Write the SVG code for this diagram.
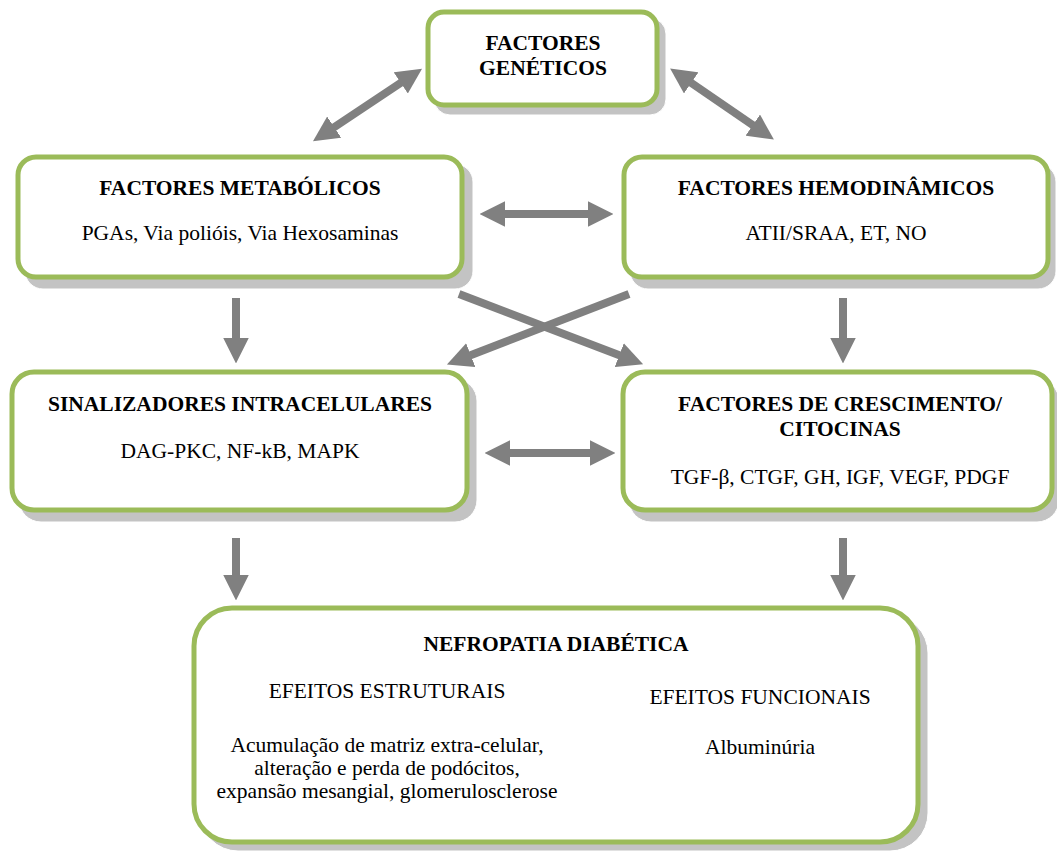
<svg xmlns="http://www.w3.org/2000/svg" width="1057" height="852" viewBox="0 0 1057 852">
<style>
.sh{fill:#c3c3c3;stroke:#ffffff;stroke-width:1}
.bx{fill:#ffffff;stroke:#9bbb59;stroke-width:5}
text{font-family:"Liberation Serif","Times New Roman",Times,serif;font-size:21.5px;fill:#000;text-anchor:middle}
.b{font-weight:bold}
.ar{stroke:#808080;stroke-width:8;fill:none}
</style>
<defs>
<marker id="ah" viewBox="0 0 10 10" refX="2" refY="5" markerWidth="3.2" markerHeight="3.2" orient="auto-start-reverse" markerUnits="strokeWidth">
<path d="M0,0 L10,5 L0,10 z" fill="#808080"/>
</marker>
</defs>
<rect width="1057" height="852" fill="#fff"/>
<g id="geneticos">
<rect class="sh" x="434" y="18" width="232" height="97" rx="16"/>
<rect class="bx" x="428" y="12" width="229" height="93" rx="16"/>
<text class="b" x="543" y="50" font-family="Liberation Serif, serif">FACTORES</text>
<text class="b" x="543" y="75" font-family="Liberation Serif, serif">GENÉTICOS</text>
</g>
<g id="metabolicos">
<rect class="sh" x="25" y="164" width="448" height="125" rx="18"/>
<rect class="bx" x="18" y="157" width="444" height="120" rx="18"/>
<text class="b" x="240" y="195" font-family="Liberation Serif, serif">FACTORES METABÓLICOS</text>
<text x="240" y="240" font-family="Liberation Serif, serif">PGAs, Via polióis, Via Hexosaminas</text>
</g>
<g id="hemodinamicos">
<rect class="sh" x="630" y="164" width="426" height="125" rx="18"/>
<rect class="bx" x="624" y="157" width="424" height="120" rx="18"/>
<text class="b" x="836" y="195" font-family="Liberation Serif, serif">FACTORES HEMODINÂMICOS</text>
<text x="836" y="240" font-family="Liberation Serif, serif">ATII/SRAA, ET, NO</text>
</g>
<g id="sinalizadores">
<rect class="sh" x="19" y="379" width="458" height="143" rx="22"/>
<rect class="bx" x="12" y="372" width="455" height="138" rx="22"/>
<text class="b" x="240" y="411" font-family="Liberation Serif, serif">SINALIZADORES INTRACELULARES</text>
<text x="240" y="458" font-family="Liberation Serif, serif">DAG-PKC, NF-kB, MAPK</text>
</g>
<g id="crescimento">
<rect class="sh" x="629" y="379" width="430" height="143" rx="22"/>
<rect class="bx" x="623" y="372" width="429" height="138" rx="22"/>
<text class="b" x="840" y="411" font-family="Liberation Serif, serif">FACTORES DE CRESCIMENTO/</text>
<text class="b" x="840" y="436" font-family="Liberation Serif, serif">CITOCINAS</text>
<text x="840" y="484" font-family="Liberation Serif, serif">TGF-β, CTGF, GH, IGF, VEGF, PDGF</text>
</g>
<g id="nefropatia">
<rect class="sh" x="200" y="615" width="728" height="236" rx="38"/>
<rect class="bx" x="194" y="608" width="724" height="234" rx="38"/>
<text class="b" x="556" y="651" font-family="Liberation Serif, serif">NEFROPATIA DIABÉTICA</text>
<text x="387" y="698" font-family="Liberation Serif, serif">EFEITOS ESTRUTURAIS</text>
<text x="760" y="704" font-family="Liberation Serif, serif">EFEITOS FUNCIONAIS</text>
<text x="387" y="752" font-family="Liberation Serif, serif">Acumulação de matriz extra-celular,</text>
<text x="387" y="775" font-family="Liberation Serif, serif">alteração e perda de podócitos,</text>
<text x="387" y="798" font-family="Liberation Serif, serif">expansão mesangial, glomerulosclerose</text>
<text x="760" y="754" font-family="Liberation Serif, serif">Albuminúria</text>
</g>
<g id="connectors">
<line class="ar" x1="405" y1="80" x2="330" y2="130" marker-start="url(#ah)" marker-end="url(#ah)"/>
<line class="ar" x1="687" y1="80" x2="757" y2="128" marker-start="url(#ah)" marker-end="url(#ah)"/>
<line class="ar" x1="500" y1="214" x2="593" y2="214" marker-start="url(#ah)" marker-end="url(#ah)"/>
<line class="ar" x1="236" y1="298" x2="236" y2="343" marker-end="url(#ah)"/>
<line class="ar" x1="843" y1="298" x2="843" y2="343" marker-end="url(#ah)"/>
<line class="ar" x1="459" y1="294" x2="624" y2="357" marker-end="url(#ah)"/>
<line class="ar" x1="629" y1="294" x2="466" y2="357" marker-end="url(#ah)"/>
<line class="ar" x1="505" y1="453" x2="595" y2="453" marker-start="url(#ah)" marker-end="url(#ah)"/>
<line class="ar" x1="236" y1="538" x2="236" y2="580" marker-end="url(#ah)"/>
<line class="ar" x1="843" y1="538" x2="843" y2="580" marker-end="url(#ah)"/>
</g>
</svg>
